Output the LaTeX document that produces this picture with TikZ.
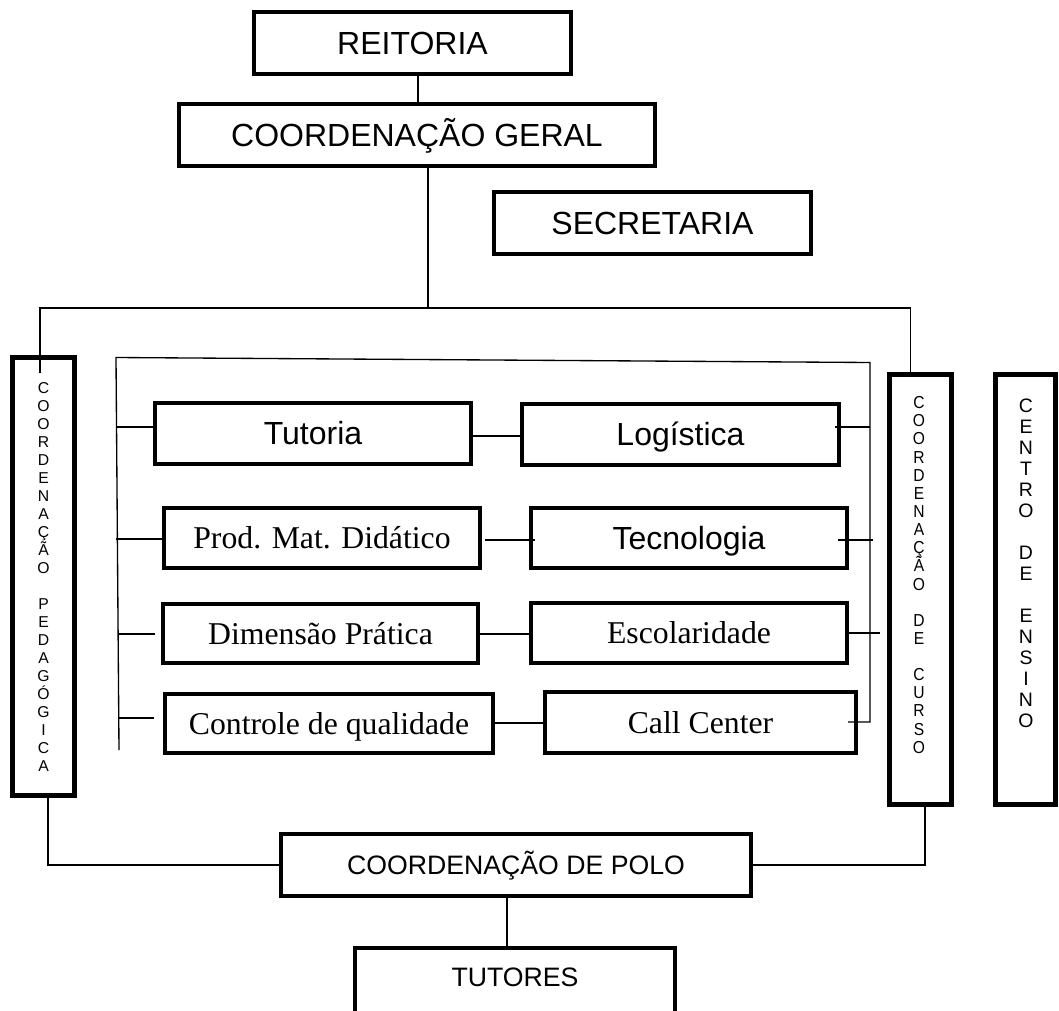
\documentclass[tikz,border=0pt]{standalone}
\usepackage{fontspec}
\setmainfont{Liberation Serif}
\newfontfamily\arial{Liberation Sans}
\newfontfamily\arialn[FakeStretch=0.9]{Liberation Sans}
\newcommand\tightlines{\lineskiplimit=-20pt\relax}
\usetikzlibrary{calc}
\begin{document}
\begin{tikzpicture}[x=0.75pt,y=-0.75pt,
  sz/.style 2 args={minimum width=#1*0.75pt, minimum height=#2*0.75pt},
  box/.style={draw, line width=3pt, inner sep=0pt, outer sep=0pt, align=center},
  vbox/.style={draw, line width=3.75pt, inner sep=0pt, outer sep=0pt},
  sans/.style={font=\arial\fontsize{24pt}{28pt}\selectfont, text height=17.2pt, text depth=0pt},
  serif/.style={font=\fontsize{23.8pt}{28pt}\selectfont, text height=15.8pt, text depth=0pt},
  midsans/.style={font=\arial\fontsize{20pt}{24pt}\selectfont, text height=14.3pt, text depth=0pt},
  vtext/.style={align=center, inner sep=0pt},
  link/.style={line width=1pt}]
\useasboundingbox (0,0) rectangle (1059,1010);

% top of the chart
\node[box, sans, sz={317}{62}] (reit) at (412.5,43) {REITORIA};
\node[box, sans, sz={476}{62}] (geral) at (417,135) {COORDENAÇÃO GERAL};
\node[box, sans, sz={317}{62}] (secr) at (652.5,223) {SECRETARIA};

% side columns with stacked letters
\node[vbox, sz={62}{438}, vtext,
  font=\arial\fontsize{11.8pt}{13.5pt}\selectfont\tightlines] (ped) at (43.5,576.5)
  {C\\O\\O\\R\\D\\E\\N\\A\\Ç\\Ã\\O\\[13.5pt]P\\E\\D\\A\\G\\Ó\\G\\I\\C\\A};
\node[vbox, sz={62}{430}] (curso) at (920.5,589.5) {};
\node[vtext, font=\arialn\fontsize{13pt}{13.6pt}\selectfont\tightlines] (cursotxt) at (919,575)
  {C\\O\\O\\R\\D\\E\\N\\A\\Ç\\Ã\\O\\[13.6pt]D\\E\\[13.6pt]C\\U\\R\\S\\O};
\node[vbox, sz={60}{430}] (centro) at (1025.5,589.5) {};
\node[vtext, font=\arial\fontsize{14.6pt}{15.75pt}\selectfont\tightlines] (centrotxt) at (1026,563)
  {C\\E\\N\\T\\R\\O\\[15.75pt]D\\E\\[15.75pt]E\\N\\S\\I\\N\\O};

% inner block, left column
\node[box, sans, sz={316}{61}] (tut) at (313,433.5) {Tutoria};
\node[box, serif, sz={316}{60}] (prod) at (322,538) {Prod. Mat. Didático};
\node[box, serif, sz={315}{59}] (dim) at (320.5,633.5) {Dimensão Prática};
\node[box, serif, sz={328}{59}] (ctrl) at (329,723.5) {Controle de qualidade};

% inner block, right column
\node[box, sans, sz={317}{61}] (log) at (680.5,434.5) {Logística};
\node[box, sans, sz={316}{60}] (tec) at (689,538) {Tecnologia};
\node[box, serif, sz={316}{60}] (esc) at (689,633) {Escolaridade};
\node[box, serif, sz={311}{61}] (call) at (700.5,722.5) {Call Center};

% bottom of the chart
\node[box, midsans, sz={470}{62}] (polo) at (516,865) {COORDENAÇÃO DE POLO};
\node[box, midsans, text depth=6pt, sz={320}{66}] (tutores) at (515,981) {TUTORES};

% connectors of the main line
\coordinate (hub) at (428,308);
\coordinate (busR) at (910.5,308);
\coordinate (pedIn) at (40,373);
\draw[link] (reit.south -| 418,0) -- (geral.north -| 418,0);
\draw[link] (geral.south -| hub) -- (hub);
\draw[link] (pedIn) |- (busR) -- (curso.north -| busR);
\draw[link] (ped.south -| 48,0) |- (polo.west);
\draw[link] (polo.east) -| (curso.south -| 925,0);
\draw[link] (polo.south -| 507,0) -- (tutores.north -| 507,0);

% frame around the inner block
\coordinate (fTL) at (116,357.5);
\coordinate (fTR) at (870,362.5);
\coordinate (fBL) at (119,750);
\coordinate (fBR) at (870,722);
\draw[link] (fBL) -- (fTL) -- (fTR) -- (fBR) -- ($(call.east |- fBR)+(-8,0)$);

% ticks from the frame to the left column
\draw[link] (fTL |- 0,427) -- (tut.west |- 0,427);
\draw[link] (fTL |- 0,539) -- (prod.west |- 0,539);
\draw[link] (fBL |- 0,634) -- ($(dim.west |- 0,634)+(-8,0)$);
\draw[link] (fBL |- 0,718) -- ($(ctrl.west |- 0,718)+(-11,0)$);

% links between the two columns
\draw[link] (tut.east |- 0,436) -- (log.west |- 0,436);
\draw[link] ($(prod.east |- 0,540)+(5,0)$) -- ($(tec.west |- 0,540)+(4,0)$);
\draw[link] (dim.east |- 0,634) -- (esc.west |- 0,634);
\draw[link] (ctrl.east |- 0,723) -- (call.west |- 0,723);

% ticks from the right column to the frame
\draw[link] ($(log.east |- 0,427)+(-4,0)$) -- (fTR |- 0,427);
\draw[link] ($(tec.east |- 0,540)+(-9,0)$) -- ($(fTR |- 0,540)+(3,0)$);
\draw[link] ($(esc.east |- 0,633)+(-2,0)$) -- ($(fTR |- 0,633)+(10,0)$);
\end{tikzpicture}
\end{document}
